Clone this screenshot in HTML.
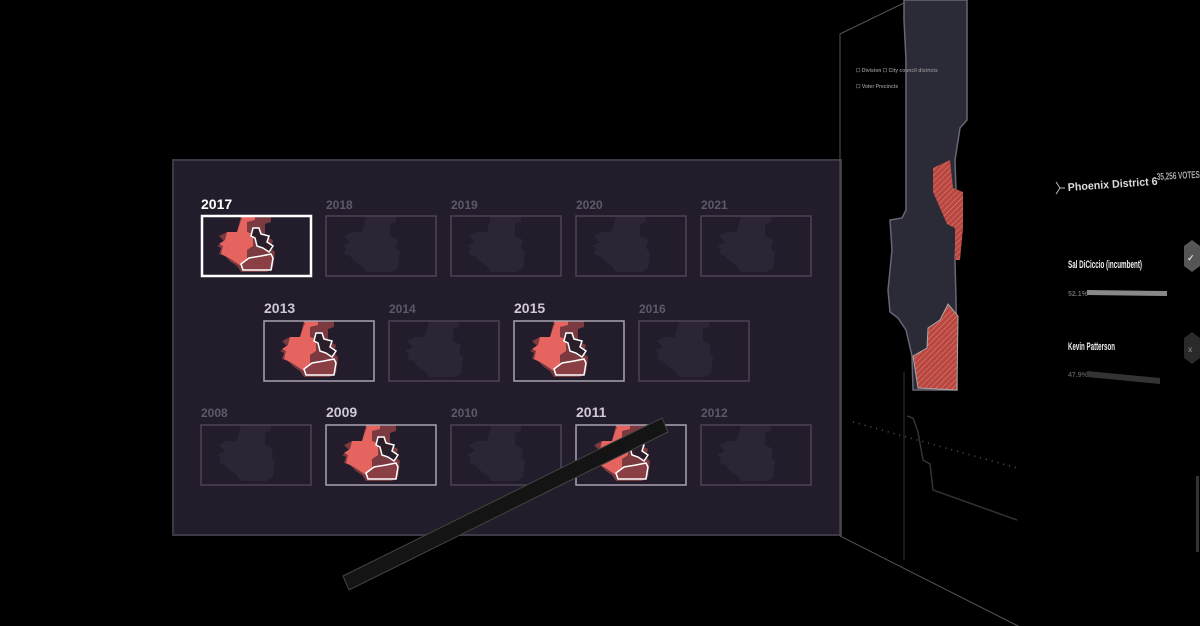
<!DOCTYPE html>
<html><head><meta charset="utf-8"><style>
html,body{margin:0;padding:0;background:#000;}
svg{display:block}
text{font-family:"Liberation Sans",sans-serif;font-weight:bold}
</style></head><body>
<svg width="1200" height="626" viewBox="0 0 1200 626" xmlns="http://www.w3.org/2000/svg">
<defs>
<g id="m">
<polygon points="40,0 70,0 70,6 64,8 64,20 72,24 70,32 74,36 72,52 66,56 40,56 36,50 30,46 24,40 18,38 20,32 16,30 24,26 18,20 26,16 36,16 38,8"/>
</g>
<g id="hot">
<polygon points="40,0 70,0 70,6 64,8 64,20 72,24 70,32 74,36 72,52 66,56 40,56 36,50 30,46 24,40 18,38 20,32 16,30 24,26 18,20 26,16 36,16 38,8" fill="#7a3a3f"/>
<polygon points="26,16 36,16 40,4 46,4 46,16 52,18 52,30 46,34 46,44 40,50 34,46 28,42 20,38 22,30 18,28 24,24" fill="#e5645f"/>
<polygon points="40,0 54,0 54,4 46,6 42,10" fill="#e5645f"/>
<polygon points="52,12 58,12 60,18 68,20 66,26 72,30 68,36 62,32 56,30 54,22 50,20" fill="#2a1e28" stroke="#fff" stroke-width="1.5"/>
<polygon points="40,48 48,42 60,40 70,38 72,42 70,54 42,54" fill="#8a3f44" stroke="#fff" stroke-width="1.5"/>
</g>
<pattern id="hatch" width="4" height="4" patternUnits="userSpaceOnUse" patternTransform="rotate(45)">
<rect width="4" height="4" fill="#b9463f"/><line x1="0" y1="0" x2="0" y2="4" stroke="#d98a84" stroke-width="1"/>
</pattern>
</defs>
<rect x="173" y="160" width="668" height="375" fill="#231d2b" stroke="#3e3846" stroke-width="2"/>
<text x="201" y="209" font-size="14" fill="#fff">2017</text>
<text x="326" y="209" font-size="12" fill="#5f5868">2018</text>
<text x="451" y="209" font-size="12" fill="#5f5868">2019</text>
<text x="576" y="209" font-size="12" fill="#5f5868">2020</text>
<text x="701" y="209" font-size="12" fill="#5f5868">2021</text>
<g fill="#2c2535">
<use href="#m" x="326" y="216"/><use href="#m" x="451" y="216"/><use href="#m" x="576" y="216"/><use href="#m" x="701" y="216"/>
<use href="#m" x="389" y="321"/><use href="#m" x="639" y="321"/>
<use href="#m" x="201" y="425"/><use href="#m" x="451" y="425"/><use href="#m" x="701" y="425"/>
</g>
<use href="#hot" x="201" y="216"/>
<use href="#hot" x="264" y="321"/><use href="#hot" x="514" y="321"/>
<use href="#hot" x="326" y="425"/><use href="#hot" x="576" y="425"/>
<g fill="none" stroke="#4c4556" stroke-width="1.5">
<rect x="326" y="216" width="110" height="60"/><rect x="451" y="216" width="110" height="60"/><rect x="576" y="216" width="110" height="60"/><rect x="701" y="216" width="110" height="60"/>
<rect x="389" y="321" width="110" height="60"/><rect x="639" y="321" width="110" height="60"/>
<rect x="201" y="425" width="110" height="60"/><rect x="451" y="425" width="110" height="60"/><rect x="701" y="425" width="110" height="60"/>
</g>
<g fill="none" stroke="#aaa3b2" stroke-width="1.5">
<rect x="264" y="321" width="110" height="60"/><rect x="514" y="321" width="110" height="60"/>
<rect x="326" y="425" width="110" height="60"/><rect x="576" y="425" width="110" height="60"/>
</g>
<rect x="202" y="216" width="109" height="60" fill="none" stroke="#fff" stroke-width="2.5"/>
<text x="264" y="313" font-size="14" fill="#cfc8d6">2013</text>
<text x="389" y="313" font-size="12" fill="#5f5868">2014</text>
<text x="514" y="313" font-size="14" fill="#cfc8d6">2015</text>
<text x="639" y="313" font-size="12" fill="#5f5868">2016</text>
<text x="201" y="417" font-size="12" fill="#5f5868">2008</text>
<text x="326" y="417" font-size="14" fill="#cfc8d6">2009</text>
<text x="451" y="417" font-size="12" fill="#5f5868">2010</text>
<text x="576" y="417" font-size="14" fill="#cfc8d6">2011</text>
<text x="701" y="417" font-size="12" fill="#5f5868">2012</text>
<polygon points="343,576 662,418 668,432 349,590" fill="#141414" stroke="#444" stroke-width="1"/>
<rect x="842" y="0" width="360" height="626" fill="#000"/>
<polyline points="910,0 840,34 840,536 1020,627" fill="none" stroke="#555" stroke-width="1"/>
<polygon points="904,0 967,0 967,120 960,128 955,160 957,220 955,260 956,300 957,390 913,390 912,356 906,330 898,318 890,312 888,290 892,250 890,220 902,218 906,210 906,120 906,60 904,20" fill="#2b2a37" stroke="#6a6474" stroke-width="1.5"/>
<polygon points="933,168 950,160 953,188 963,192 963,228 960,260 955,260 955,228 947,224 940,208 933,192" fill="url(#hatch)"/>
<polygon points="913,356 927,348 928,328 940,320 948,304 958,316 957,390 918,388" fill="url(#hatch)" stroke="#aaa" stroke-width="1"/>
<line x1="904" y1="372" x2="904" y2="560" stroke="#333" stroke-width="1"/>
<text x="856" y="72" font-size="5" fill="#888" font-weight="normal">☐ Division  ☐ City council districts</text>
<text x="856" y="88" font-size="5" fill="#888" font-weight="normal">☐ Voter Precincts</text>
<line x1="853" y1="422" x2="1017" y2="468" stroke="#555" stroke-width="1.5" stroke-dasharray="1,5"/>
<polyline points="907,416 913,418 918,432 923,460 930,464 933,490 1017,520" fill="none" stroke="#333" stroke-width="1.5"/>
<text x="1068" y="191" font-size="11" fill="#ddd" font-weight="normal" textLength="90" lengthAdjust="spacingAndGlyphs" transform="rotate(-4 1068 191)">Phoenix District 6</text>
<text x="1157" y="180" font-size="10" fill="#aaa" font-weight="normal" textLength="43" lengthAdjust="spacingAndGlyphs" transform="rotate(-3 1157 180)">35,256 VOTES</text>
<path d="M1056,182 l4,6 l-4,6 M1060,188 h5" stroke="#bbb" fill="none"/>
<text x="1068" y="268" font-size="11" fill="#eee" font-weight="normal" textLength="74" lengthAdjust="spacingAndGlyphs">Sal DiCiccio (incumbent)</text>
<text x="1068" y="296" font-size="7" fill="#666" font-weight="normal">52.1%</text>
<polygon points="1087,290 1167,291 1167,296 1087,295" fill="#888"/>
<polygon points="1192,240 1200,246 1200,266 1192,272 1184,266 1184,246" fill="#555"/>
<text x="1187" y="261" font-size="9" fill="#ddd">✓</text>
<text x="1068" y="350" font-size="11" fill="#eee" font-weight="normal" textLength="47" lengthAdjust="spacingAndGlyphs">Kevin Patterson</text>
<text x="1068" y="377" font-size="7" fill="#555" font-weight="normal">47.9%</text>
<polygon points="1087,371 1160,378 1160,384 1087,377" fill="#333"/>
<polygon points="1192,332 1200,338 1200,358 1192,364 1184,358 1184,338" fill="#2a2a2a"/>
<text x="1188" y="352" font-size="8" fill="#777">x</text>
<rect x="1196" y="476" width="3" height="76" fill="#333"/>
</svg>
</body></html>
